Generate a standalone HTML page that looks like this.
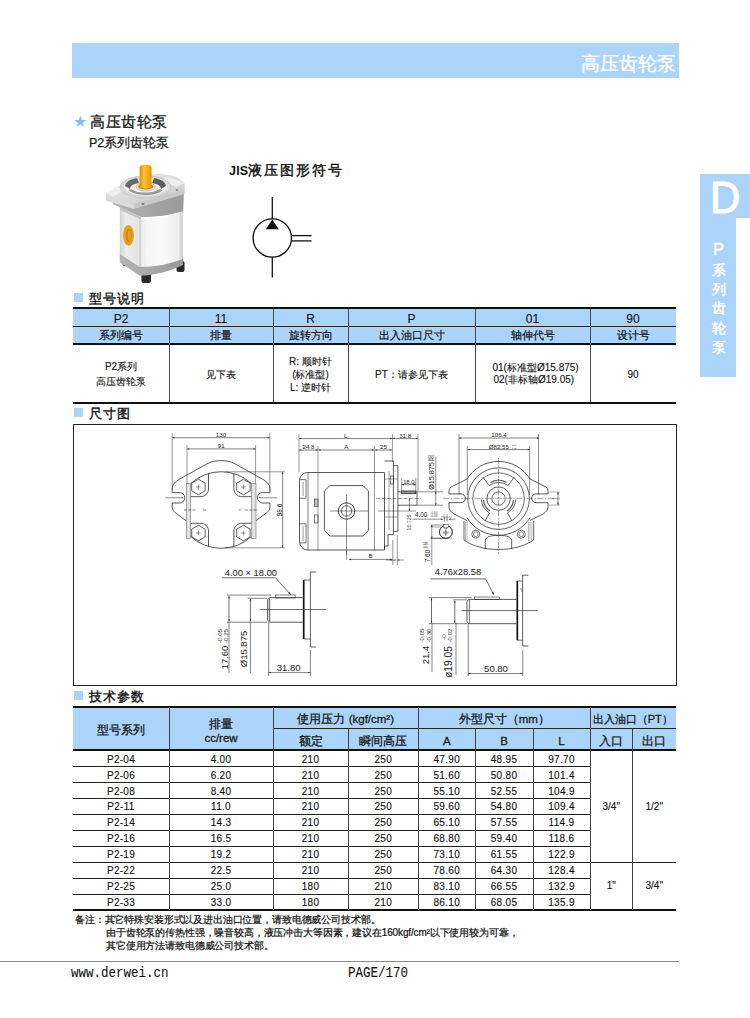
<!DOCTYPE html>
<html><head><meta charset="utf-8"><style>
html,body{margin:0;padding:0;background:#fff;}
body{width:750px;height:1018px;position:relative;overflow:hidden;font-family:"Liberation Sans",sans-serif;}
div{font-family:"Liberation Sans",sans-serif;}
</style></head><body>
<div style="position:absolute;left:72px;top:43px;width:607px;height:35px;background:#acd4fb;"></div><div class="" style="position:absolute;left:560px;top:45.5px;font-size:19px;color:#ffffff;font-weight:500;white-space:nowrap;-webkit-text-stroke:0.35px #ffffff;width:116px;text-align:right;line-height:35px;">高压齿轮泵</div><div style="position:absolute;left:700px;top:174px;width:50px;height:44px;background:#acd4fb;"></div><div style="position:absolute;left:700px;top:174px;width:35.5px;height:203px;background:#acd4fb;"></div><div class="" style="position:absolute;left:700px;top:174px;font-size:45px;color:#ffffff;font-weight:500;white-space:nowrap;-webkit-text-stroke:1.1px #ffffff;width:50px;text-align:center;line-height:48px;transform:scaleX(0.93);transform-origin:25px 0;">D</div><div class="" style="position:absolute;left:700px;top:241px;font-size:16.5px;color:#ffffff;font-weight:500;white-space:nowrap;-webkit-text-stroke:0.4px #ffffff;width:37px;text-align:center;line-height:16px;">P</div><div class="" style="position:absolute;left:700px;top:261.5px;font-size:14px;color:#ffffff;font-weight:500;white-space:nowrap;-webkit-text-stroke:0.45px #ffffff;width:37px;text-align:center;line-height:17px;">系</div><div class="" style="position:absolute;left:700px;top:280.9px;font-size:14px;color:#ffffff;font-weight:500;white-space:nowrap;-webkit-text-stroke:0.45px #ffffff;width:37px;text-align:center;line-height:17px;">列</div><div class="" style="position:absolute;left:700px;top:300.3px;font-size:14px;color:#ffffff;font-weight:500;white-space:nowrap;-webkit-text-stroke:0.45px #ffffff;width:37px;text-align:center;line-height:17px;">齿</div><div class="" style="position:absolute;left:700px;top:319.7px;font-size:14px;color:#ffffff;font-weight:500;white-space:nowrap;-webkit-text-stroke:0.45px #ffffff;width:37px;text-align:center;line-height:17px;">轮</div><div class="" style="position:absolute;left:700px;top:339.1px;font-size:14px;color:#ffffff;font-weight:500;white-space:nowrap;-webkit-text-stroke:0.45px #ffffff;width:37px;text-align:center;line-height:17px;">泵</div><div class="" style="position:absolute;left:72.5px;top:112.5px;font-size:16px;color:#86bdf3;font-weight:500;white-space:nowrap;line-height:18px;">★</div><div class="" style="position:absolute;left:90px;top:113px;font-size:15px;color:#1a1a1a;font-weight:500;white-space:nowrap;-webkit-text-stroke:0.32px #1a1a1a;line-height:18px;letter-spacing:0.5px;">高压齿轮泵</div><div class="" style="position:absolute;left:89px;top:134.5px;font-size:12.5px;color:#1a1a1a;font-weight:500;white-space:nowrap;-webkit-text-stroke:0.25px #1a1a1a;line-height:16px;">P2系列齿轮泵</div><div class="" style="position:absolute;left:229px;top:162px;font-size:14px;color:#111;font-weight:400;white-space:nowrap;-webkit-text-stroke:0.4px #111;line-height:16px;letter-spacing:1.9px;"><span style="font-weight:700;font-size:12.5px;letter-spacing:0.2px;-webkit-text-stroke:0">JIS</span>液压图形符号</div><div style="position:absolute;left:73.8px;top:293px;width:9.2px;height:9px;background:#acd4fb;"></div><div class="" style="position:absolute;left:89px;top:291px;font-size:13px;color:#111;font-weight:500;white-space:nowrap;-webkit-text-stroke:0.38px #111;line-height:16px;letter-spacing:1px;">型号说明</div><div style="position:absolute;left:73.8px;top:408px;width:9.2px;height:9px;background:#acd4fb;"></div><div class="" style="position:absolute;left:89px;top:406px;font-size:13px;color:#111;font-weight:500;white-space:nowrap;-webkit-text-stroke:0.38px #111;line-height:16px;letter-spacing:1px;">尺寸图</div><div style="position:absolute;left:73.8px;top:691px;width:9.2px;height:9px;background:#acd4fb;"></div><div class="" style="position:absolute;left:89px;top:689px;font-size:13px;color:#111;font-weight:500;white-space:nowrap;-webkit-text-stroke:0.38px #111;line-height:16px;letter-spacing:1px;">技术参数</div><div style="position:absolute;left:73px;top:309px;width:603px;height:34.5px;background:#acd4fb;"></div><div style="position:absolute;left:73px;top:307px;width:603px;height:2px;background:#111;"></div><div style="position:absolute;left:73px;top:326px;width:603px;height:1px;background:#222;"></div><div style="position:absolute;left:73px;top:343px;width:603px;height:2px;background:#111;"></div><div style="position:absolute;left:73px;top:402px;width:603px;height:1.6px;background:#111;"></div><div style="position:absolute;left:168.5px;top:309px;width:1.1px;height:93px;background:#484848;"></div><div style="position:absolute;left:272.5px;top:309px;width:1.1px;height:93px;background:#484848;"></div><div style="position:absolute;left:347.5px;top:309px;width:1.1px;height:93px;background:#484848;"></div><div style="position:absolute;left:474.5px;top:309px;width:1.1px;height:93px;background:#484848;"></div><div style="position:absolute;left:589.5px;top:309px;width:1.1px;height:93px;background:#484848;"></div><div class="" style="position:absolute;left:73px;top:310.5px;font-size:12px;color:#111;font-weight:500;white-space:nowrap;-webkit-text-stroke:0.1px #111;width:96px;text-align:center;line-height:17px;">P2</div><div class="" style="position:absolute;left:73px;top:327px;font-size:11px;color:#111;font-weight:500;white-space:nowrap;-webkit-text-stroke:0.2px #111;width:96px;text-align:center;line-height:16.5px;">系列编号</div><div class="" style="position:absolute;left:169px;top:310.5px;font-size:12px;color:#111;font-weight:500;white-space:nowrap;-webkit-text-stroke:0.1px #111;width:104px;text-align:center;line-height:17px;">11</div><div class="" style="position:absolute;left:169px;top:327px;font-size:11px;color:#111;font-weight:500;white-space:nowrap;-webkit-text-stroke:0.2px #111;width:104px;text-align:center;line-height:16.5px;">排量</div><div class="" style="position:absolute;left:273px;top:310.5px;font-size:12px;color:#111;font-weight:500;white-space:nowrap;-webkit-text-stroke:0.1px #111;width:75px;text-align:center;line-height:17px;">R</div><div class="" style="position:absolute;left:273px;top:327px;font-size:11px;color:#111;font-weight:500;white-space:nowrap;-webkit-text-stroke:0.2px #111;width:75px;text-align:center;line-height:16.5px;">旋转方向</div><div class="" style="position:absolute;left:348px;top:310.5px;font-size:12px;color:#111;font-weight:500;white-space:nowrap;-webkit-text-stroke:0.1px #111;width:127px;text-align:center;line-height:17px;">P</div><div class="" style="position:absolute;left:348px;top:327px;font-size:11px;color:#111;font-weight:500;white-space:nowrap;-webkit-text-stroke:0.2px #111;width:127px;text-align:center;line-height:16.5px;">出入油口尺寸</div><div class="" style="position:absolute;left:475px;top:310.5px;font-size:12px;color:#111;font-weight:500;white-space:nowrap;-webkit-text-stroke:0.1px #111;width:115px;text-align:center;line-height:17px;">01</div><div class="" style="position:absolute;left:475px;top:327px;font-size:11px;color:#111;font-weight:500;white-space:nowrap;-webkit-text-stroke:0.2px #111;width:115px;text-align:center;line-height:16.5px;">轴伸代号</div><div class="" style="position:absolute;left:590px;top:310.5px;font-size:12px;color:#111;font-weight:500;white-space:nowrap;-webkit-text-stroke:0.1px #111;width:86px;text-align:center;line-height:17px;">90</div><div class="" style="position:absolute;left:590px;top:327px;font-size:11px;color:#111;font-weight:500;white-space:nowrap;-webkit-text-stroke:0.2px #111;width:86px;text-align:center;line-height:16.5px;">设计号</div><div class="" style="position:absolute;left:73px;top:359.3px;font-size:10px;color:#111;font-weight:500;white-space:nowrap;-webkit-text-stroke:0.12px #111;width:96px;text-align:center;line-height:15px;">P2系列<br>高压齿轮泵</div><div class="" style="position:absolute;left:169px;top:366.8px;font-size:10px;color:#111;font-weight:500;white-space:nowrap;-webkit-text-stroke:0.12px #111;width:104px;text-align:center;line-height:15px;">见下表</div><div class="" style="position:absolute;left:273px;top:354.8px;font-size:10px;color:#111;font-weight:500;white-space:nowrap;-webkit-text-stroke:0.12px #111;width:75px;text-align:center;line-height:13px;">R: 顺时针<br>(标准型)<br>L: 逆时针</div><div class="" style="position:absolute;left:348px;top:366.8px;font-size:10px;color:#111;font-weight:500;white-space:nowrap;-webkit-text-stroke:0.12px #111;width:127px;text-align:center;line-height:15px;">PT：请参见下表</div><div class="" style="position:absolute;left:492.5px;top:361.8px;font-size:10px;color:#111;font-weight:500;white-space:nowrap;-webkit-text-stroke:0.12px #111;line-height:12.5px;">01(标准型Ø15.875)<br><span style="margin-left:1px">02(非标轴Ø19.05)</span></div><div class="" style="position:absolute;left:590px;top:366.8px;font-size:10px;color:#111;font-weight:500;white-space:nowrap;-webkit-text-stroke:0.12px #111;width:86px;text-align:center;line-height:15px;">90</div><div style="position:absolute;left:73px;top:423.5px;width:602px;height:260px;border:1.2px solid #222;"></div><div style="position:absolute;left:73px;top:707px;width:603px;height:43px;background:#acd4fb;"></div><div style="position:absolute;left:73px;top:706px;width:603px;height:2px;background:#111;"></div><div style="position:absolute;left:273px;top:728px;width:403px;height:1px;background:#222;"></div><div style="position:absolute;left:73px;top:749px;width:603px;height:2px;background:#111;"></div><div style="position:absolute;left:73px;top:766px;width:517px;height:1px;background:#222;"></div><div style="position:absolute;left:73px;top:782px;width:517px;height:1px;background:#222;"></div><div style="position:absolute;left:73px;top:798px;width:517px;height:1px;background:#222;"></div><div style="position:absolute;left:73px;top:814px;width:517px;height:1px;background:#222;"></div><div style="position:absolute;left:73px;top:830px;width:517px;height:1px;background:#222;"></div><div style="position:absolute;left:73px;top:846px;width:517px;height:1px;background:#222;"></div><div style="position:absolute;left:73px;top:862px;width:603px;height:1px;background:#222;"></div><div style="position:absolute;left:73px;top:878px;width:517px;height:1px;background:#222;"></div><div style="position:absolute;left:73px;top:894px;width:517px;height:1px;background:#222;"></div><div style="position:absolute;left:73px;top:909px;width:603px;height:2px;background:#111;"></div><div style="position:absolute;left:168.5px;top:707px;width:1.1px;height:203px;background:#404040;"></div><div style="position:absolute;left:272.5px;top:707px;width:1.1px;height:203px;background:#404040;"></div><div style="position:absolute;left:347.5px;top:728.5px;width:1.1px;height:181.5px;background:#404040;"></div><div style="position:absolute;left:418.0px;top:707px;width:1.1px;height:203px;background:#404040;"></div><div style="position:absolute;left:474.5px;top:728.5px;width:1.1px;height:181.5px;background:#404040;"></div><div style="position:absolute;left:532.5px;top:728.5px;width:1.1px;height:181.5px;background:#404040;"></div><div style="position:absolute;left:589.5px;top:707px;width:1.1px;height:203px;background:#404040;"></div><div style="position:absolute;left:632.0px;top:728.5px;width:1.1px;height:181.5px;background:#404040;"></div><div class="" style="position:absolute;left:73px;top:708.5px;font-size:11.5px;color:#1a1a1a;font-weight:500;white-space:nowrap;-webkit-text-stroke:0.3px #1a1a1a;width:96px;text-align:center;line-height:43px;">型号系列</div><div class="" style="position:absolute;left:169px;top:716.5px;font-size:11.5px;color:#1a1a1a;font-weight:500;white-space:nowrap;-webkit-text-stroke:0.3px #1a1a1a;width:104px;text-align:center;line-height:14.5px;white-space:normal;">排量<br>cc/rew</div><div class="" style="position:absolute;left:273px;top:709px;font-size:11.5px;color:#1a1a1a;font-weight:500;white-space:nowrap;-webkit-text-stroke:0.3px #1a1a1a;width:145.5px;text-align:center;line-height:21.5px;">使用压力 (kgf/cm²)</div><div class="" style="position:absolute;left:273px;top:730.5px;font-size:11.5px;color:#1a1a1a;font-weight:500;white-space:nowrap;-webkit-text-stroke:0.3px #1a1a1a;width:75px;text-align:center;line-height:21px;">额定</div><div class="" style="position:absolute;left:348px;top:730.5px;font-size:11.5px;color:#1a1a1a;font-weight:500;white-space:nowrap;-webkit-text-stroke:0.3px #1a1a1a;width:70.5px;text-align:center;line-height:21px;">瞬间高压</div><div class="" style="position:absolute;left:418.5px;top:709px;font-size:11.5px;color:#1a1a1a;font-weight:500;white-space:nowrap;-webkit-text-stroke:0.3px #1a1a1a;width:171.5px;text-align:center;line-height:21.5px;">外型尺寸（mm）</div><div class="" style="position:absolute;left:418.5px;top:730.5px;font-size:11.5px;color:#1a1a1a;font-weight:500;white-space:nowrap;-webkit-text-stroke:0.3px #1a1a1a;width:56.5px;text-align:center;line-height:21px;">A</div><div class="" style="position:absolute;left:475px;top:730.5px;font-size:11.5px;color:#1a1a1a;font-weight:500;white-space:nowrap;-webkit-text-stroke:0.3px #1a1a1a;width:58px;text-align:center;line-height:21px;">B</div><div class="" style="position:absolute;left:533px;top:730.5px;font-size:11.5px;color:#1a1a1a;font-weight:500;white-space:nowrap;-webkit-text-stroke:0.3px #1a1a1a;width:57px;text-align:center;line-height:21px;">L</div><div class="" style="position:absolute;left:590px;top:709px;font-size:11px;color:#1a1a1a;font-weight:500;white-space:nowrap;-webkit-text-stroke:0.3px #1a1a1a;width:86px;text-align:center;line-height:21.5px;letter-spacing:-0.1px;">出入油口（PT）</div><div class="" style="position:absolute;left:590px;top:730.5px;font-size:11.5px;color:#1a1a1a;font-weight:500;white-space:nowrap;-webkit-text-stroke:0.3px #1a1a1a;width:42.5px;text-align:center;line-height:21px;">入口</div><div class="" style="position:absolute;left:632.5px;top:730.5px;font-size:11.5px;color:#1a1a1a;font-weight:500;white-space:nowrap;-webkit-text-stroke:0.3px #1a1a1a;width:43.5px;text-align:center;line-height:21px;">出口</div><div class="" style="position:absolute;left:73px;top:751.5999999999999px;font-size:10px;color:#111;font-weight:500;white-space:nowrap;-webkit-text-stroke:0.12px #111;width:96px;text-align:center;line-height:15.96px;letter-spacing:0.3px;">P2-04</div><div class="" style="position:absolute;left:169px;top:751.5999999999999px;font-size:10px;color:#111;font-weight:500;white-space:nowrap;-webkit-text-stroke:0.12px #111;width:104px;text-align:center;line-height:15.96px;letter-spacing:0.3px;">4.00</div><div class="" style="position:absolute;left:273px;top:751.5999999999999px;font-size:10px;color:#111;font-weight:500;white-space:nowrap;-webkit-text-stroke:0.12px #111;width:75px;text-align:center;line-height:15.96px;letter-spacing:0.3px;">210</div><div class="" style="position:absolute;left:348px;top:751.5999999999999px;font-size:10px;color:#111;font-weight:500;white-space:nowrap;-webkit-text-stroke:0.12px #111;width:70.5px;text-align:center;line-height:15.96px;letter-spacing:0.3px;">250</div><div class="" style="position:absolute;left:418.5px;top:751.5999999999999px;font-size:10px;color:#111;font-weight:500;white-space:nowrap;-webkit-text-stroke:0.12px #111;width:56.5px;text-align:center;line-height:15.96px;letter-spacing:0.3px;">47.90</div><div class="" style="position:absolute;left:475px;top:751.5999999999999px;font-size:10px;color:#111;font-weight:500;white-space:nowrap;-webkit-text-stroke:0.12px #111;width:58px;text-align:center;line-height:15.96px;letter-spacing:0.3px;">48.95</div><div class="" style="position:absolute;left:533px;top:751.5999999999999px;font-size:10px;color:#111;font-weight:500;white-space:nowrap;-webkit-text-stroke:0.12px #111;width:57px;text-align:center;line-height:15.96px;letter-spacing:0.3px;">97.70</div><div class="" style="position:absolute;left:73px;top:767.56px;font-size:10px;color:#111;font-weight:500;white-space:nowrap;-webkit-text-stroke:0.12px #111;width:96px;text-align:center;line-height:15.96px;letter-spacing:0.3px;">P2-06</div><div class="" style="position:absolute;left:169px;top:767.56px;font-size:10px;color:#111;font-weight:500;white-space:nowrap;-webkit-text-stroke:0.12px #111;width:104px;text-align:center;line-height:15.96px;letter-spacing:0.3px;">6.20</div><div class="" style="position:absolute;left:273px;top:767.56px;font-size:10px;color:#111;font-weight:500;white-space:nowrap;-webkit-text-stroke:0.12px #111;width:75px;text-align:center;line-height:15.96px;letter-spacing:0.3px;">210</div><div class="" style="position:absolute;left:348px;top:767.56px;font-size:10px;color:#111;font-weight:500;white-space:nowrap;-webkit-text-stroke:0.12px #111;width:70.5px;text-align:center;line-height:15.96px;letter-spacing:0.3px;">250</div><div class="" style="position:absolute;left:418.5px;top:767.56px;font-size:10px;color:#111;font-weight:500;white-space:nowrap;-webkit-text-stroke:0.12px #111;width:56.5px;text-align:center;line-height:15.96px;letter-spacing:0.3px;">51.60</div><div class="" style="position:absolute;left:475px;top:767.56px;font-size:10px;color:#111;font-weight:500;white-space:nowrap;-webkit-text-stroke:0.12px #111;width:58px;text-align:center;line-height:15.96px;letter-spacing:0.3px;">50.80</div><div class="" style="position:absolute;left:533px;top:767.56px;font-size:10px;color:#111;font-weight:500;white-space:nowrap;-webkit-text-stroke:0.12px #111;width:57px;text-align:center;line-height:15.96px;letter-spacing:0.3px;">101.4</div><div class="" style="position:absolute;left:73px;top:783.5199999999999px;font-size:10px;color:#111;font-weight:500;white-space:nowrap;-webkit-text-stroke:0.12px #111;width:96px;text-align:center;line-height:15.96px;letter-spacing:0.3px;">P2-08</div><div class="" style="position:absolute;left:169px;top:783.5199999999999px;font-size:10px;color:#111;font-weight:500;white-space:nowrap;-webkit-text-stroke:0.12px #111;width:104px;text-align:center;line-height:15.96px;letter-spacing:0.3px;">8.40</div><div class="" style="position:absolute;left:273px;top:783.5199999999999px;font-size:10px;color:#111;font-weight:500;white-space:nowrap;-webkit-text-stroke:0.12px #111;width:75px;text-align:center;line-height:15.96px;letter-spacing:0.3px;">210</div><div class="" style="position:absolute;left:348px;top:783.5199999999999px;font-size:10px;color:#111;font-weight:500;white-space:nowrap;-webkit-text-stroke:0.12px #111;width:70.5px;text-align:center;line-height:15.96px;letter-spacing:0.3px;">250</div><div class="" style="position:absolute;left:418.5px;top:783.5199999999999px;font-size:10px;color:#111;font-weight:500;white-space:nowrap;-webkit-text-stroke:0.12px #111;width:56.5px;text-align:center;line-height:15.96px;letter-spacing:0.3px;">55.10</div><div class="" style="position:absolute;left:475px;top:783.5199999999999px;font-size:10px;color:#111;font-weight:500;white-space:nowrap;-webkit-text-stroke:0.12px #111;width:58px;text-align:center;line-height:15.96px;letter-spacing:0.3px;">52.55</div><div class="" style="position:absolute;left:533px;top:783.5199999999999px;font-size:10px;color:#111;font-weight:500;white-space:nowrap;-webkit-text-stroke:0.12px #111;width:57px;text-align:center;line-height:15.96px;letter-spacing:0.3px;">104.9</div><div class="" style="position:absolute;left:73px;top:799.4799999999999px;font-size:10px;color:#111;font-weight:500;white-space:nowrap;-webkit-text-stroke:0.12px #111;width:96px;text-align:center;line-height:15.96px;letter-spacing:0.3px;">P2-11</div><div class="" style="position:absolute;left:169px;top:799.4799999999999px;font-size:10px;color:#111;font-weight:500;white-space:nowrap;-webkit-text-stroke:0.12px #111;width:104px;text-align:center;line-height:15.96px;letter-spacing:0.3px;">11.0</div><div class="" style="position:absolute;left:273px;top:799.4799999999999px;font-size:10px;color:#111;font-weight:500;white-space:nowrap;-webkit-text-stroke:0.12px #111;width:75px;text-align:center;line-height:15.96px;letter-spacing:0.3px;">210</div><div class="" style="position:absolute;left:348px;top:799.4799999999999px;font-size:10px;color:#111;font-weight:500;white-space:nowrap;-webkit-text-stroke:0.12px #111;width:70.5px;text-align:center;line-height:15.96px;letter-spacing:0.3px;">250</div><div class="" style="position:absolute;left:418.5px;top:799.4799999999999px;font-size:10px;color:#111;font-weight:500;white-space:nowrap;-webkit-text-stroke:0.12px #111;width:56.5px;text-align:center;line-height:15.96px;letter-spacing:0.3px;">59.60</div><div class="" style="position:absolute;left:475px;top:799.4799999999999px;font-size:10px;color:#111;font-weight:500;white-space:nowrap;-webkit-text-stroke:0.12px #111;width:58px;text-align:center;line-height:15.96px;letter-spacing:0.3px;">54.80</div><div class="" style="position:absolute;left:533px;top:799.4799999999999px;font-size:10px;color:#111;font-weight:500;white-space:nowrap;-webkit-text-stroke:0.12px #111;width:57px;text-align:center;line-height:15.96px;letter-spacing:0.3px;">109.4</div><div class="" style="position:absolute;left:73px;top:815.4399999999999px;font-size:10px;color:#111;font-weight:500;white-space:nowrap;-webkit-text-stroke:0.12px #111;width:96px;text-align:center;line-height:15.96px;letter-spacing:0.3px;">P2-14</div><div class="" style="position:absolute;left:169px;top:815.4399999999999px;font-size:10px;color:#111;font-weight:500;white-space:nowrap;-webkit-text-stroke:0.12px #111;width:104px;text-align:center;line-height:15.96px;letter-spacing:0.3px;">14.3</div><div class="" style="position:absolute;left:273px;top:815.4399999999999px;font-size:10px;color:#111;font-weight:500;white-space:nowrap;-webkit-text-stroke:0.12px #111;width:75px;text-align:center;line-height:15.96px;letter-spacing:0.3px;">210</div><div class="" style="position:absolute;left:348px;top:815.4399999999999px;font-size:10px;color:#111;font-weight:500;white-space:nowrap;-webkit-text-stroke:0.12px #111;width:70.5px;text-align:center;line-height:15.96px;letter-spacing:0.3px;">250</div><div class="" style="position:absolute;left:418.5px;top:815.4399999999999px;font-size:10px;color:#111;font-weight:500;white-space:nowrap;-webkit-text-stroke:0.12px #111;width:56.5px;text-align:center;line-height:15.96px;letter-spacing:0.3px;">65.10</div><div class="" style="position:absolute;left:475px;top:815.4399999999999px;font-size:10px;color:#111;font-weight:500;white-space:nowrap;-webkit-text-stroke:0.12px #111;width:58px;text-align:center;line-height:15.96px;letter-spacing:0.3px;">57.55</div><div class="" style="position:absolute;left:533px;top:815.4399999999999px;font-size:10px;color:#111;font-weight:500;white-space:nowrap;-webkit-text-stroke:0.12px #111;width:57px;text-align:center;line-height:15.96px;letter-spacing:0.3px;">114.9</div><div class="" style="position:absolute;left:73px;top:831.3999999999999px;font-size:10px;color:#111;font-weight:500;white-space:nowrap;-webkit-text-stroke:0.12px #111;width:96px;text-align:center;line-height:15.96px;letter-spacing:0.3px;">P2-16</div><div class="" style="position:absolute;left:169px;top:831.3999999999999px;font-size:10px;color:#111;font-weight:500;white-space:nowrap;-webkit-text-stroke:0.12px #111;width:104px;text-align:center;line-height:15.96px;letter-spacing:0.3px;">16.5</div><div class="" style="position:absolute;left:273px;top:831.3999999999999px;font-size:10px;color:#111;font-weight:500;white-space:nowrap;-webkit-text-stroke:0.12px #111;width:75px;text-align:center;line-height:15.96px;letter-spacing:0.3px;">210</div><div class="" style="position:absolute;left:348px;top:831.3999999999999px;font-size:10px;color:#111;font-weight:500;white-space:nowrap;-webkit-text-stroke:0.12px #111;width:70.5px;text-align:center;line-height:15.96px;letter-spacing:0.3px;">250</div><div class="" style="position:absolute;left:418.5px;top:831.3999999999999px;font-size:10px;color:#111;font-weight:500;white-space:nowrap;-webkit-text-stroke:0.12px #111;width:56.5px;text-align:center;line-height:15.96px;letter-spacing:0.3px;">68.80</div><div class="" style="position:absolute;left:475px;top:831.3999999999999px;font-size:10px;color:#111;font-weight:500;white-space:nowrap;-webkit-text-stroke:0.12px #111;width:58px;text-align:center;line-height:15.96px;letter-spacing:0.3px;">59.40</div><div class="" style="position:absolute;left:533px;top:831.3999999999999px;font-size:10px;color:#111;font-weight:500;white-space:nowrap;-webkit-text-stroke:0.12px #111;width:57px;text-align:center;line-height:15.96px;letter-spacing:0.3px;">118.6</div><div class="" style="position:absolute;left:73px;top:847.3599999999999px;font-size:10px;color:#111;font-weight:500;white-space:nowrap;-webkit-text-stroke:0.12px #111;width:96px;text-align:center;line-height:15.96px;letter-spacing:0.3px;">P2-19</div><div class="" style="position:absolute;left:169px;top:847.3599999999999px;font-size:10px;color:#111;font-weight:500;white-space:nowrap;-webkit-text-stroke:0.12px #111;width:104px;text-align:center;line-height:15.96px;letter-spacing:0.3px;">19.2</div><div class="" style="position:absolute;left:273px;top:847.3599999999999px;font-size:10px;color:#111;font-weight:500;white-space:nowrap;-webkit-text-stroke:0.12px #111;width:75px;text-align:center;line-height:15.96px;letter-spacing:0.3px;">210</div><div class="" style="position:absolute;left:348px;top:847.3599999999999px;font-size:10px;color:#111;font-weight:500;white-space:nowrap;-webkit-text-stroke:0.12px #111;width:70.5px;text-align:center;line-height:15.96px;letter-spacing:0.3px;">250</div><div class="" style="position:absolute;left:418.5px;top:847.3599999999999px;font-size:10px;color:#111;font-weight:500;white-space:nowrap;-webkit-text-stroke:0.12px #111;width:56.5px;text-align:center;line-height:15.96px;letter-spacing:0.3px;">73.10</div><div class="" style="position:absolute;left:475px;top:847.3599999999999px;font-size:10px;color:#111;font-weight:500;white-space:nowrap;-webkit-text-stroke:0.12px #111;width:58px;text-align:center;line-height:15.96px;letter-spacing:0.3px;">61.55</div><div class="" style="position:absolute;left:533px;top:847.3599999999999px;font-size:10px;color:#111;font-weight:500;white-space:nowrap;-webkit-text-stroke:0.12px #111;width:57px;text-align:center;line-height:15.96px;letter-spacing:0.3px;">122.9</div><div class="" style="position:absolute;left:73px;top:863.3199999999999px;font-size:10px;color:#111;font-weight:500;white-space:nowrap;-webkit-text-stroke:0.12px #111;width:96px;text-align:center;line-height:15.96px;letter-spacing:0.3px;">P2-22</div><div class="" style="position:absolute;left:169px;top:863.3199999999999px;font-size:10px;color:#111;font-weight:500;white-space:nowrap;-webkit-text-stroke:0.12px #111;width:104px;text-align:center;line-height:15.96px;letter-spacing:0.3px;">22.5</div><div class="" style="position:absolute;left:273px;top:863.3199999999999px;font-size:10px;color:#111;font-weight:500;white-space:nowrap;-webkit-text-stroke:0.12px #111;width:75px;text-align:center;line-height:15.96px;letter-spacing:0.3px;">210</div><div class="" style="position:absolute;left:348px;top:863.3199999999999px;font-size:10px;color:#111;font-weight:500;white-space:nowrap;-webkit-text-stroke:0.12px #111;width:70.5px;text-align:center;line-height:15.96px;letter-spacing:0.3px;">250</div><div class="" style="position:absolute;left:418.5px;top:863.3199999999999px;font-size:10px;color:#111;font-weight:500;white-space:nowrap;-webkit-text-stroke:0.12px #111;width:56.5px;text-align:center;line-height:15.96px;letter-spacing:0.3px;">78.60</div><div class="" style="position:absolute;left:475px;top:863.3199999999999px;font-size:10px;color:#111;font-weight:500;white-space:nowrap;-webkit-text-stroke:0.12px #111;width:58px;text-align:center;line-height:15.96px;letter-spacing:0.3px;">64.30</div><div class="" style="position:absolute;left:533px;top:863.3199999999999px;font-size:10px;color:#111;font-weight:500;white-space:nowrap;-webkit-text-stroke:0.12px #111;width:57px;text-align:center;line-height:15.96px;letter-spacing:0.3px;">128.4</div><div class="" style="position:absolute;left:73px;top:879.28px;font-size:10px;color:#111;font-weight:500;white-space:nowrap;-webkit-text-stroke:0.12px #111;width:96px;text-align:center;line-height:15.96px;letter-spacing:0.3px;">P2-25</div><div class="" style="position:absolute;left:169px;top:879.28px;font-size:10px;color:#111;font-weight:500;white-space:nowrap;-webkit-text-stroke:0.12px #111;width:104px;text-align:center;line-height:15.96px;letter-spacing:0.3px;">25.0</div><div class="" style="position:absolute;left:273px;top:879.28px;font-size:10px;color:#111;font-weight:500;white-space:nowrap;-webkit-text-stroke:0.12px #111;width:75px;text-align:center;line-height:15.96px;letter-spacing:0.3px;">180</div><div class="" style="position:absolute;left:348px;top:879.28px;font-size:10px;color:#111;font-weight:500;white-space:nowrap;-webkit-text-stroke:0.12px #111;width:70.5px;text-align:center;line-height:15.96px;letter-spacing:0.3px;">210</div><div class="" style="position:absolute;left:418.5px;top:879.28px;font-size:10px;color:#111;font-weight:500;white-space:nowrap;-webkit-text-stroke:0.12px #111;width:56.5px;text-align:center;line-height:15.96px;letter-spacing:0.3px;">83.10</div><div class="" style="position:absolute;left:475px;top:879.28px;font-size:10px;color:#111;font-weight:500;white-space:nowrap;-webkit-text-stroke:0.12px #111;width:58px;text-align:center;line-height:15.96px;letter-spacing:0.3px;">66.55</div><div class="" style="position:absolute;left:533px;top:879.28px;font-size:10px;color:#111;font-weight:500;white-space:nowrap;-webkit-text-stroke:0.12px #111;width:57px;text-align:center;line-height:15.96px;letter-spacing:0.3px;">132.9</div><div class="" style="position:absolute;left:73px;top:895.2399999999999px;font-size:10px;color:#111;font-weight:500;white-space:nowrap;-webkit-text-stroke:0.12px #111;width:96px;text-align:center;line-height:15.96px;letter-spacing:0.3px;">P2-33</div><div class="" style="position:absolute;left:169px;top:895.2399999999999px;font-size:10px;color:#111;font-weight:500;white-space:nowrap;-webkit-text-stroke:0.12px #111;width:104px;text-align:center;line-height:15.96px;letter-spacing:0.3px;">33.0</div><div class="" style="position:absolute;left:273px;top:895.2399999999999px;font-size:10px;color:#111;font-weight:500;white-space:nowrap;-webkit-text-stroke:0.12px #111;width:75px;text-align:center;line-height:15.96px;letter-spacing:0.3px;">180</div><div class="" style="position:absolute;left:348px;top:895.2399999999999px;font-size:10px;color:#111;font-weight:500;white-space:nowrap;-webkit-text-stroke:0.12px #111;width:70.5px;text-align:center;line-height:15.96px;letter-spacing:0.3px;">210</div><div class="" style="position:absolute;left:418.5px;top:895.2399999999999px;font-size:10px;color:#111;font-weight:500;white-space:nowrap;-webkit-text-stroke:0.12px #111;width:56.5px;text-align:center;line-height:15.96px;letter-spacing:0.3px;">86.10</div><div class="" style="position:absolute;left:475px;top:895.2399999999999px;font-size:10px;color:#111;font-weight:500;white-space:nowrap;-webkit-text-stroke:0.12px #111;width:58px;text-align:center;line-height:15.96px;letter-spacing:0.3px;">68.05</div><div class="" style="position:absolute;left:533px;top:895.2399999999999px;font-size:10px;color:#111;font-weight:500;white-space:nowrap;-webkit-text-stroke:0.12px #111;width:57px;text-align:center;line-height:15.96px;letter-spacing:0.3px;">135.9</div><div class="" style="position:absolute;left:590px;top:750.6px;font-size:10px;color:#111;font-weight:500;white-space:nowrap;-webkit-text-stroke:0.12px #111;width:42.5px;text-align:center;line-height:111.72px;">3/4"</div><div class="" style="position:absolute;left:632.5px;top:750.6px;font-size:10px;color:#111;font-weight:500;white-space:nowrap;-webkit-text-stroke:0.12px #111;width:43.5px;text-align:center;line-height:111.72px;">1/2"</div><div class="" style="position:absolute;left:590px;top:862.32px;font-size:10px;color:#111;font-weight:500;white-space:nowrap;-webkit-text-stroke:0.12px #111;width:42.5px;text-align:center;line-height:47.88px;">1"</div><div class="" style="position:absolute;left:632.5px;top:862.32px;font-size:10px;color:#111;font-weight:500;white-space:nowrap;-webkit-text-stroke:0.12px #111;width:43.5px;text-align:center;line-height:47.88px;">3/4"</div><div class="" style="position:absolute;left:75px;top:913.5px;font-size:10px;color:#111;font-weight:500;white-space:nowrap;-webkit-text-stroke:0.22px #111;line-height:12.7px;letter-spacing:-0.15px;">备注：其它特殊安装形式以及进出油口位置，请致电德威公司技术部。</div><div class="" style="position:absolute;left:106px;top:926.5px;font-size:10px;color:#111;font-weight:500;white-space:nowrap;-webkit-text-stroke:0.22px #111;line-height:12.7px;letter-spacing:-0.15px;">由于齿轮泵的传热性强，噪音较高，液压冲击大等因素，建议在160kgf/cm²以下使用较为可靠，</div><div class="" style="position:absolute;left:106px;top:939.5px;font-size:10px;color:#111;font-weight:500;white-space:nowrap;-webkit-text-stroke:0.22px #111;line-height:12.7px;letter-spacing:-0.15px;">其它使用方法请致电德威公司技术部。</div><div style="position:absolute;left:0px;top:960.5px;width:679px;height:1.2px;background:#8c8c8c;"></div><div class="" style="position:absolute;left:71px;top:966px;font-size:15px;color:#111;font-weight:500;white-space:nowrap;-webkit-text-stroke:0.1px #111;line-height:16px;font-family:'Liberation Mono',monospace;transform:scaleX(0.833);transform-origin:0 0;">www.derwei.cn</div><div class="" style="position:absolute;left:348px;top:965.5px;font-size:15px;color:#111;font-weight:500;white-space:nowrap;-webkit-text-stroke:0.1px #111;line-height:16px;font-family:'Liberation Mono',monospace;transform:scaleX(0.833);transform-origin:0 0;">PAGE/170</div>
<svg style="position:absolute;left:0;top:0" width="750" height="1018" viewBox="0 0 750 1018"><defs>
<linearGradient id="gFront" x1="0" y1="0" x2="1" y2="0">
 <stop offset="0" stop-color="#d8d8d8"/><stop offset="0.08" stop-color="#f4f4f4"/><stop offset="0.5" stop-color="#fbfbfb"/><stop offset="0.9" stop-color="#eeeeee"/><stop offset="1" stop-color="#c8c8c8"/>
</linearGradient>
<linearGradient id="gLeft" x1="0" y1="0" x2="1" y2="0">
 <stop offset="0" stop-color="#d0d0d0"/><stop offset="0.3" stop-color="#ececec"/><stop offset="1" stop-color="#e4e4e4"/>
</linearGradient>
<linearGradient id="gShaft" x1="0" y1="0" x2="1" y2="0">
 <stop offset="0" stop-color="#e08a00"/><stop offset="0.35" stop-color="#ffc040"/><stop offset="1" stop-color="#e89400"/>
</linearGradient>
<linearGradient id="gBand" x1="0" y1="0" x2="1" y2="0">
 <stop offset="0" stop-color="#b4b4b4"/><stop offset="0.5" stop-color="#a6a6a6"/><stop offset="1" stop-color="#9a9a9a"/>
</linearGradient>
<linearGradient id="gPlate" x1="0" y1="0" x2="1" y2="1">
 <stop offset="0" stop-color="#e8e8e8"/><stop offset="0.5" stop-color="#dcdcdc"/><stop offset="1" stop-color="#c4c4c4"/>
</linearGradient>
</defs><rect x="122.5" y="257" width="8" height="9" rx="2" fill="#2a2a2a"/><rect x="141.4" y="270" width="9.6" height="13" rx="2.5" fill="#2a2a2a"/><rect x="176.5" y="261" width="8" height="11" rx="2" fill="#2a2a2a"/><path d="M119.8,252 L139.6,265 C155,265 170,262 183,257 L183,265 C170,271 155,275.6 139.6,275.6 L119.8,262.4 Z" fill="url(#gBand)"/><path d="M119.8,207 L139.6,219.2 L139.6,267 L119.8,254 Z" fill="url(#gLeft)"/><path d="M139.6,219.2 C155,219.2 170,216 182.8,211 L182.8,259 C170,264 155,267 139.6,267 Z" fill="url(#gFront)"/><line x1="139.8" y1="219" x2="139.8" y2="267" stroke="#c6c6c6" stroke-width="0.8"/><line x1="145" y1="219" x2="145" y2="267" stroke="#e2e2e2" stroke-width="0.6"/><ellipse cx="128.5" cy="235.4" rx="5.4" ry="10.4" fill="#f0a010"/><ellipse cx="128.8" cy="235.6" rx="3.2" ry="7.2" fill="#c98a18"/><ellipse cx="129.5" cy="235.8" rx="1.8" ry="5" fill="#e0a030"/><path d="M113,201 L184,190 L183.2,211 C170,215.5 155,217 141,217 L120,207.5 L113,204 Z" fill="url(#gBand)"/><path d="M120,207.5 L141,217 L141,219.5 L120,210 Z" fill="#c4c4c4"/><path d="M106,195 L134,204 L184.6,189 L184.6,194 L134,209 L106,200.5 Z" fill="#c9c9c9"/><path d="M106,195 L134,204 L134,209 L106,200.5 Z" fill="#dadada"/><path d="M106,193 L117,186.5 L124,186 L150,175 L160,173.5 L176,176.5 L184.6,183 L184.6,189 L158,197.5 L134,204 L106,195 Z" fill="url(#gPlate)"/><path d="M106,193 L117,186.5 L125,189.5 L113,196.5 Z" fill="#f0f0f0"/><path d="M168,177 L184.6,183 L177,187.5 L163,180.5 Z" fill="#eeeeee"/><ellipse cx="145.6" cy="187" rx="25.5" ry="11" fill="#d9d9d9" stroke="#b8b8b8" stroke-width="0.6"/><ellipse cx="145.6" cy="186.5" rx="21.5" ry="8.8" fill="#f2f2f2"/><path d="M125,186 C126,181 131,179 137,178 L139,183 C133,184 130,186 130,189 Z" fill="#6a6a6a"/><path d="M166,186 C165,181 160,179 154,178 L152,183 C158,184 161,186 161,189 Z" fill="#5a5a5a"/><path d="M128,190 C133,194 140,195 146,195 C152,195 159,194 163,190 L160,189 C155,192 150,192.5 146,192.5 C141,192.5 135,192 131,189 Z" fill="#9a9a9a"/><ellipse cx="145.6" cy="186.8" rx="9.5" ry="4.2" fill="#e4e4e4" stroke="#a8a8a8" stroke-width="0.6"/><ellipse cx="145.6" cy="186.5" rx="7.8" ry="3" fill="#d88a00"/><path d="M139.6,168 C139.6,165.5 142,164.8 145.6,164.8 C149,164.8 151.6,165.5 151.6,168 L151.6,186 C151.6,187.6 149,188.4 145.6,188.4 C142,188.4 139.6,187.6 139.6,186 Z" fill="url(#gShaft)"/><ellipse cx="143" cy="204" rx="1.6" ry="0.9" fill="#777"/><ellipse cx="177" cy="190" rx="1.4" ry="0.8" fill="#777"/><line x1="272.30" y1="197.00" x2="272.30" y2="219.00" stroke="#111" stroke-width="1.3" /><line x1="272.30" y1="257.00" x2="272.30" y2="277.50" stroke="#111" stroke-width="1.3" /><circle cx="272.30" cy="238.00" r="19.20" stroke="#111" stroke-width="1.3" fill="none"/><path d="M272.3,219.5 L265.8,229.2 L278.8,229.2 Z" fill="#111"/><line x1="291.50" y1="235.60" x2="311.50" y2="235.60" stroke="#111" stroke-width="1.3" /><line x1="291.50" y1="240.90" x2="311.50" y2="240.90" stroke="#111" stroke-width="1.3" /><line x1="172.20" y1="433.00" x2="172.20" y2="490.00" stroke="#2e2e2e" stroke-width="0.5" /><line x1="269.80" y1="433.00" x2="269.80" y2="490.00" stroke="#2e2e2e" stroke-width="0.5" /><line x1="172.20" y1="437.70" x2="269.80" y2="437.70" stroke="#2e2e2e" stroke-width="0.6" /><path d="M172.20,437.70 L174.40,436.93 L174.40,438.47 Z" fill="#2e2e2e"/><path d="M269.80,437.70 L267.60,438.47 L267.60,436.93 Z" fill="#2e2e2e"/><text x="221.0" y="437.0" font-size="6.2" text-anchor="middle" fill="#222" font-family="Liberation Sans, sans-serif" >130</text><line x1="187.00" y1="445.00" x2="187.00" y2="486.00" stroke="#2e2e2e" stroke-width="0.5" /><line x1="255.60" y1="445.00" x2="255.60" y2="486.00" stroke="#2e2e2e" stroke-width="0.5" /><line x1="187.00" y1="448.90" x2="255.60" y2="448.90" stroke="#2e2e2e" stroke-width="0.6" /><path d="M187.00,448.90 L189.20,448.13 L189.20,449.67 Z" fill="#2e2e2e"/><path d="M255.60,448.90 L253.40,449.67 L253.40,448.13 Z" fill="#2e2e2e"/><text x="221.3" y="448.2" font-size="6.2" text-anchor="middle" fill="#222" font-family="Liberation Sans, sans-serif" >91</text><path d="M172.2,492.6 L172.2,489 C172.2,485 174,483 178,480 L207,463.8 C211,461.4 216,460.6 221,460.6 C226,460.6 231,461.4 235,463.8 L264,480 C268,483 270,485 270,489 L270,492.6 L262.6,492.6 A5.2,5.2 0 0 0 262.6,503 L270,503 L270,507 C270,510 268,512 265,514 L255.5,521" stroke="#2e2e2e" stroke-width="0.8" fill="none" /><path d="M172.2,492.6 L179.6,492.6 A5.2,5.2 0 0 1 179.6,503 L172.2,503 L172.2,507 C172.2,510 174,512 177,514 L186.6,521" stroke="#2e2e2e" stroke-width="0.8" fill="none" /><line x1="165.00" y1="497.80" x2="181.00" y2="497.80" stroke="#2e2e2e" stroke-width="0.55" /><path d="M183.60,497.80 L181.40,498.57 L181.40,497.03 Z" fill="#2e2e2e"/><line x1="277.00" y1="497.80" x2="261.00" y2="497.80" stroke="#2e2e2e" stroke-width="0.55" /><path d="M258.40,497.80 L260.60,497.03 L260.60,498.57 Z" fill="#2e2e2e"/><path d="M190.7,483.5 A45.1,45.1 0 0 1 251.5,483.5" stroke="#2e2e2e" stroke-width="0.8" fill="none" /><path d="M190.7,536.5 A45.1,45.1 0 0 0 251.5,536.5" stroke="#2e2e2e" stroke-width="0.8" fill="none" /><rect x="186.3" y="483.3" width="4.4" height="55" fill="#e2e2e2" stroke="#666" stroke-width="0.55"/><rect x="251.6" y="483.3" width="4.4" height="55" fill="#e2e2e2" stroke="#666" stroke-width="0.55"/><polygon points="198.40,494.75 191.69,490.88 191.69,483.12 198.40,479.25 205.11,483.12 205.11,490.88" stroke="#2e2e2e" stroke-width="0.75" fill="none"/><line x1="196.00" y1="487.00" x2="200.80" y2="487.00" stroke="#2e2e2e" stroke-width="0.5" /><line x1="198.40" y1="484.60" x2="198.40" y2="489.40" stroke="#2e2e2e" stroke-width="0.5" /><polygon points="243.40,494.75 236.69,490.88 236.69,483.12 243.40,479.25 250.11,483.12 250.11,490.88" stroke="#2e2e2e" stroke-width="0.75" fill="none"/><line x1="241.00" y1="487.00" x2="245.80" y2="487.00" stroke="#2e2e2e" stroke-width="0.5" /><line x1="243.40" y1="484.60" x2="243.40" y2="489.40" stroke="#2e2e2e" stroke-width="0.5" /><polygon points="198.40,540.75 191.69,536.88 191.69,529.12 198.40,525.25 205.11,529.12 205.11,536.88" stroke="#2e2e2e" stroke-width="0.75" fill="none"/><line x1="196.00" y1="533.00" x2="200.80" y2="533.00" stroke="#2e2e2e" stroke-width="0.5" /><line x1="198.40" y1="530.60" x2="198.40" y2="535.40" stroke="#2e2e2e" stroke-width="0.5" /><polygon points="243.40,540.75 236.69,536.88 236.69,529.12 243.40,525.25 250.11,529.12 250.11,536.88" stroke="#2e2e2e" stroke-width="0.75" fill="none"/><line x1="241.00" y1="533.00" x2="245.80" y2="533.00" stroke="#2e2e2e" stroke-width="0.5" /><line x1="243.40" y1="530.60" x2="243.40" y2="535.40" stroke="#2e2e2e" stroke-width="0.5" /><path d="M208.5,473.2 L208.5,489 C208.5,493.5 205,496.7 200,496.7 L190.7,496.7" stroke="#2e2e2e" stroke-width="0.8" fill="none" /><path d="M233.9,473.2 L233.9,489 C233.9,493.5 237.4,496.7 242.4,496.7 L251.6,496.7" stroke="#2e2e2e" stroke-width="0.8" fill="none" /><path d="M208.5,546.8 L208.5,531 C208.5,526.5 205,523.3 200,523.3 L190.7,523.3" stroke="#2e2e2e" stroke-width="0.8" fill="none" /><path d="M233.9,546.8 L233.9,531 C233.9,526.5 237.4,523.3 242.4,523.3 L251.6,523.3" stroke="#2e2e2e" stroke-width="0.8" fill="none" /><line x1="184.00" y1="510.00" x2="197.00" y2="510.00" stroke="#2e2e2e" stroke-width="0.6" stroke-dasharray="3,1.2"/><line x1="245.00" y1="510.00" x2="258.00" y2="510.00" stroke="#2e2e2e" stroke-width="0.6" stroke-dasharray="3,1.2"/><text x="202.5" y="510" font-size="4.2" text-anchor="middle" fill="#222" font-family="Liberation Sans, sans-serif" transform="rotate(90 202.5 510)" >2</text><text x="238.5" y="510" font-size="4.2" text-anchor="middle" fill="#222" font-family="Liberation Sans, sans-serif" transform="rotate(90 238.5 510)" >ε</text><line x1="225.00" y1="471.80" x2="285.00" y2="471.80" stroke="#2e2e2e" stroke-width="0.5" /><line x1="225.00" y1="547.80" x2="285.00" y2="547.80" stroke="#2e2e2e" stroke-width="0.5" /><line x1="282.60" y1="471.80" x2="282.60" y2="547.80" stroke="#2e2e2e" stroke-width="0.6" /><path d="M282.60,471.80 L283.37,474.00 L281.83,474.00 Z" fill="#2e2e2e"/><path d="M282.60,547.80 L281.83,545.60 L283.37,545.60 Z" fill="#2e2e2e"/><text x="281.8" y="510" font-size="6.6" text-anchor="middle" fill="#111" font-family="Liberation Sans, sans-serif" transform="rotate(-90 281.8 510)" >98.6</text><line x1="299.00" y1="434.00" x2="299.00" y2="472.00" stroke="#2e2e2e" stroke-width="0.5" /><line x1="392.40" y1="434.00" x2="392.40" y2="462.00" stroke="#2e2e2e" stroke-width="0.5" /><line x1="418.00" y1="434.00" x2="418.00" y2="491.00" stroke="#2e2e2e" stroke-width="0.5" /><line x1="318.00" y1="446.00" x2="318.00" y2="551.00" stroke="#2e2e2e" stroke-width="0.5" /><line x1="374.50" y1="446.00" x2="374.50" y2="551.00" stroke="#2e2e2e" stroke-width="0.5" /><line x1="299.00" y1="438.60" x2="392.40" y2="438.60" stroke="#2e2e2e" stroke-width="0.6" /><path d="M299.00,438.60 L301.20,437.83 L301.20,439.37 Z" fill="#2e2e2e"/><path d="M392.40,438.60 L390.20,439.37 L390.20,437.83 Z" fill="#2e2e2e"/><text x="345.7" y="437.6" font-size="6.2" text-anchor="middle" fill="#222" font-family="Liberation Sans, sans-serif" >L</text><line x1="392.40" y1="438.60" x2="418.00" y2="438.60" stroke="#2e2e2e" stroke-width="0.6" /><path d="M392.40,438.60 L394.60,437.83 L394.60,439.37 Z" fill="#2e2e2e"/><path d="M418.00,438.60 L415.80,439.37 L415.80,437.83 Z" fill="#2e2e2e"/><text x="405.2" y="437.6" font-size="6.2" text-anchor="middle" fill="#222" font-family="Liberation Sans, sans-serif" >31.8</text><line x1="299.00" y1="450.00" x2="318.00" y2="450.00" stroke="#2e2e2e" stroke-width="0.6" /><path d="M299.00,450.00 L301.20,449.23 L301.20,450.77 Z" fill="#2e2e2e"/><path d="M318.00,450.00 L315.80,450.77 L315.80,449.23 Z" fill="#2e2e2e"/><text x="308.5" y="449.0" font-size="6.2" text-anchor="middle" fill="#222" font-family="Liberation Sans, sans-serif" >24.8</text><line x1="318.50" y1="450.00" x2="374.00" y2="450.00" stroke="#2e2e2e" stroke-width="0.6" /><path d="M318.50,450.00 L320.70,449.23 L320.70,450.77 Z" fill="#2e2e2e"/><path d="M374.00,450.00 L371.80,450.77 L371.80,449.23 Z" fill="#2e2e2e"/><text x="346.25" y="449.0" font-size="6.2" text-anchor="middle" fill="#222" font-family="Liberation Sans, sans-serif" >A</text><line x1="375.00" y1="450.00" x2="392.00" y2="450.00" stroke="#2e2e2e" stroke-width="0.6" /><path d="M375.00,450.00 L377.20,449.23 L377.20,450.77 Z" fill="#2e2e2e"/><path d="M392.00,450.00 L389.80,450.77 L389.80,449.23 Z" fill="#2e2e2e"/><text x="383.5" y="449.0" font-size="6.2" text-anchor="middle" fill="#222" font-family="Liberation Sans, sans-serif" >25</text><path d="M308,472.5 L384.5,472.5 L384.5,550 L308,550 C303,550 299.5,546 299.5,541 L299.5,481 C299.5,476 303,472.5 308,472.5 Z" stroke="#2e2e2e" stroke-width="0.8" fill="none" /><line x1="308.00" y1="472.50" x2="308.00" y2="550.00" stroke="#2e2e2e" stroke-width="0.6" /><path d="M299.5,479.6 L306,479.6 L306,498.2 L299.5,498.2" stroke="#2e2e2e" stroke-width="0.65" fill="none" /><path d="M299.5,523.8 L306,523.8 L306,542.9 L299.5,542.9" stroke="#2e2e2e" stroke-width="0.65" fill="none" /><line x1="303.00" y1="482.00" x2="303.00" y2="496.00" stroke="#2e2e2e" stroke-width="0.5" /><line x1="303.00" y1="526.00" x2="303.00" y2="541.00" stroke="#2e2e2e" stroke-width="0.5" /><rect x="314.6" y="499" width="3.4" height="7.6" stroke="#2e2e2e" stroke-width="0.6" fill="#bbb"/><rect x="314.6" y="515" width="3.4" height="8" stroke="#2e2e2e" stroke-width="0.6" fill="none"/><path d="M384.5,461 L393.4,461 L393.4,534.6 L388,534.6 L388,546 L384.5,546 L384.5,550" stroke="#2e2e2e" stroke-width="0.8" fill="none" /><path d="M393.4,465.6 L397.9,465.6 L397.9,531.4 L393.4,531.4" stroke="#2e2e2e" stroke-width="0.75" fill="none" /><line x1="389.00" y1="471.00" x2="389.00" y2="530.00" stroke="#2e2e2e" stroke-width="0.45" /><rect x="390.5" y="476" width="2.9" height="8" stroke="#2e2e2e" stroke-width="0.6" fill="none"/><path d="M330,485.6 L363,485.6 L368.4,491 L368.4,530.5 L363,536 L330,536 L324.4,530.5 L324.4,491 Z" stroke="#2e2e2e" stroke-width="0.8" fill="none" /><circle cx="346.50" cy="511.00" r="8.20" stroke="#2e2e2e" stroke-width="0.9" fill="none"/><circle cx="346.50" cy="511.00" r="5.20" stroke="#2e2e2e" stroke-width="0.7" fill="none"/><line x1="330.00" y1="511.00" x2="368.00" y2="511.00" stroke="#2e2e2e" stroke-width="0.55" /><line x1="346.50" y1="494.00" x2="346.50" y2="555.00" stroke="#2e2e2e" stroke-width="0.55" /><line x1="376.00" y1="498.50" x2="421.00" y2="498.50" stroke="#2e2e2e" stroke-width="0.5" stroke-dasharray="4,1.5"/><line x1="378.00" y1="511.00" x2="416.00" y2="511.00" stroke="#2e2e2e" stroke-width="0.5" /><line x1="384.50" y1="479.00" x2="397.90" y2="479.00" stroke="#2e2e2e" stroke-width="0.45" /><line x1="384.50" y1="517.00" x2="397.90" y2="517.00" stroke="#2e2e2e" stroke-width="0.45" /><path d="M397.9,491.8 L417,491.8 L417,505.2 L397.9,505.2" stroke="#2e2e2e" stroke-width="0.75" fill="none" /><rect x="401.7" y="491" width="14.1" height="2.7" stroke="#222" stroke-width="0.8" fill="#999"/><line x1="401.70" y1="484.70" x2="415.80" y2="484.70" stroke="#2e2e2e" stroke-width="0.6" /><path d="M401.70,484.70 L403.90,483.93 L403.90,485.47 Z" fill="#2e2e2e"/><path d="M415.80,484.70 L413.60,485.47 L413.60,483.93 Z" fill="#2e2e2e"/><text x="408.8" y="483.5" font-size="5.8" text-anchor="middle" fill="#222" font-family="Liberation Sans, sans-serif" >18.0</text><line x1="401.70" y1="478.00" x2="401.70" y2="491.00" stroke="#2e2e2e" stroke-width="0.5" /><line x1="415.80" y1="478.00" x2="415.80" y2="491.00" stroke="#2e2e2e" stroke-width="0.5" /><line x1="417.00" y1="491.80" x2="443.00" y2="491.80" stroke="#2e2e2e" stroke-width="0.55" /><line x1="417.00" y1="505.20" x2="443.00" y2="505.20" stroke="#2e2e2e" stroke-width="0.55" /><line x1="435.80" y1="456.60" x2="435.80" y2="505.20" stroke="#2e2e2e" stroke-width="0.55" /><path d="M435.80,491.80 L436.50,493.80 L435.10,493.80 Z" fill="#2e2e2e"/><path d="M435.80,505.20 L435.10,503.20 L436.50,503.20 Z" fill="#2e2e2e"/><text x="433.6" y="476" font-size="7.2" text-anchor="middle" fill="#222" font-family="Liberation Sans, sans-serif" transform="rotate(-90 433.6 476)" >Ø15.875</text><text x="430.6" y="458.5" font-size="3.2" text-anchor="middle" fill="#333" font-family="Liberation Sans, sans-serif" transform="rotate(-90 430.6 458.5)" >-0.03</text><text x="433.8" y="458.5" font-size="3.2" text-anchor="middle" fill="#333" font-family="Liberation Sans, sans-serif" transform="rotate(-90 433.8 458.5)" >-0.05</text><line x1="409.40" y1="498.50" x2="409.40" y2="511.00" stroke="#2e2e2e" stroke-width="0.55" /><path d="M409.40,498.50 L410.10,500.50 L408.70,500.50 Z" fill="#2e2e2e"/><path d="M409.40,511.00 L408.70,509.00 L410.10,509.00 Z" fill="#2e2e2e"/><text x="410.7" y="522.5" font-size="5.2" text-anchor="middle" fill="#444" font-family="Liberation Sans, sans-serif" transform="rotate(-90 410.7 522.5)" >15.725</text><text x="421.2" y="516.7" font-size="6.4" text-anchor="middle" fill="#222" font-family="Liberation Sans, sans-serif" >4.00</text><text x="434" y="513.8" font-size="3.0" text-anchor="middle" fill="#333" font-family="Liberation Sans, sans-serif" >-0.00</text><text x="434" y="517" font-size="3.0" text-anchor="middle" fill="#333" font-family="Liberation Sans, sans-serif" >-0.03</text><line x1="412.60" y1="519.20" x2="442.60" y2="519.20" stroke="#2e2e2e" stroke-width="0.55" /><path d="M443.00,519.20 L441.00,519.90 L441.00,518.50 Z" fill="#2e2e2e"/><line x1="444.50" y1="517.30" x2="444.50" y2="521.80" stroke="#2e2e2e" stroke-width="0.5" /><line x1="447.00" y1="517.30" x2="447.00" y2="521.80" stroke="#2e2e2e" stroke-width="0.5" /><line x1="455.40" y1="519.20" x2="449.00" y2="519.20" stroke="#2e2e2e" stroke-width="0.55" /><path d="M448.60,519.20 L450.60,518.50 L450.60,519.90 Z" fill="#2e2e2e"/><circle cx="445.80" cy="532.00" r="6.40" stroke="#2e2e2e" stroke-width="0.75" fill="none"/><circle cx="445.80" cy="526.90" r="1.90" stroke="#2e2e2e" stroke-width="0.6" fill="none"/><line x1="442.80" y1="533.00" x2="448.80" y2="533.00" stroke="#2e2e2e" stroke-width="0.5" /><line x1="445.80" y1="530.00" x2="445.80" y2="536.00" stroke="#2e2e2e" stroke-width="0.5" /><line x1="431.00" y1="525.00" x2="445.00" y2="525.00" stroke="#2e2e2e" stroke-width="0.55" /><line x1="431.00" y1="538.40" x2="445.00" y2="538.40" stroke="#2e2e2e" stroke-width="0.55" /><line x1="431.80" y1="525.00" x2="431.80" y2="565.00" stroke="#2e2e2e" stroke-width="0.55" /><path d="M431.80,525.00 L432.50,527.00 L431.10,527.00 Z" fill="#2e2e2e"/><path d="M431.80,538.40 L431.10,536.40 L432.50,536.40 Z" fill="#2e2e2e"/><text x="429.8" y="556" font-size="6.4" text-anchor="middle" fill="#222" font-family="Liberation Sans, sans-serif" transform="rotate(-90 429.8 556)" >7.60</text><text x="425.5" y="545" font-size="3.0" text-anchor="middle" fill="#333" font-family="Liberation Sans, sans-serif" transform="rotate(-90 425.5 545)" >-0.05</text><text x="428.3" y="545" font-size="3.0" text-anchor="middle" fill="#333" font-family="Liberation Sans, sans-serif" transform="rotate(-90 428.3 545)" >-0.30</text><line x1="346.50" y1="551.00" x2="346.50" y2="560.00" stroke="#2e2e2e" stroke-width="0.45" /><line x1="349.00" y1="559.40" x2="392.00" y2="559.40" stroke="#2e2e2e" stroke-width="0.6" /><path d="M349.00,559.40 L351.20,558.63 L351.20,560.17 Z" fill="#2e2e2e"/><path d="M392.00,559.40 L389.80,560.17 L389.80,558.63 Z" fill="#2e2e2e"/><text x="370.5" y="558.3" font-size="5.6" text-anchor="middle" fill="#222" font-family="Liberation Sans, sans-serif" >B</text><line x1="392.80" y1="540.00" x2="392.80" y2="565.00" stroke="#2e2e2e" stroke-width="0.5" /><line x1="397.30" y1="535.00" x2="397.30" y2="565.00" stroke="#2e2e2e" stroke-width="0.5" /><text x="396.3" y="560" font-size="4" text-anchor="middle" fill="#222" font-family="Liberation Sans, sans-serif" transform="rotate(-90 396.3 560)" >6</text><line x1="386.00" y1="560.00" x2="392.80" y2="560.00" stroke="#2e2e2e" stroke-width="0.5" /><path d="M392.80,560.00 L390.80,560.70 L390.80,559.30 Z" fill="#2e2e2e"/><line x1="397.30" y1="560.00" x2="404.00" y2="560.00" stroke="#2e2e2e" stroke-width="0.5" /><path d="M397.30,560.00 L399.30,559.30 L399.30,560.70 Z" fill="#2e2e2e"/><line x1="459.00" y1="434.00" x2="459.00" y2="495.00" stroke="#2e2e2e" stroke-width="0.55" /><line x1="538.50" y1="434.00" x2="538.50" y2="495.00" stroke="#2e2e2e" stroke-width="0.55" /><line x1="459.00" y1="438.00" x2="539.00" y2="438.00" stroke="#2e2e2e" stroke-width="0.6" /><path d="M459.00,438.00 L461.20,437.23 L461.20,438.77 Z" fill="#2e2e2e"/><path d="M539.00,438.00 L536.80,438.77 L536.80,437.23 Z" fill="#2e2e2e"/><text x="499.0" y="437.0" font-size="6.2" text-anchor="middle" fill="#222" font-family="Liberation Sans, sans-serif" >106.4</text><line x1="467.30" y1="446.00" x2="467.30" y2="495.00" stroke="#2e2e2e" stroke-width="0.55" /><line x1="529.60" y1="446.00" x2="529.60" y2="495.00" stroke="#2e2e2e" stroke-width="0.55" /><line x1="467.60" y1="449.60" x2="530.00" y2="449.60" stroke="#2e2e2e" stroke-width="0.6" /><path d="M467.60,449.60 L469.80,448.83 L469.80,450.37 Z" fill="#2e2e2e"/><path d="M530.00,449.60 L527.80,450.37 L527.80,448.83 Z" fill="#2e2e2e"/><text x="498.8" y="448.6" font-size="6.2" text-anchor="middle" fill="#222" font-family="Liberation Sans, sans-serif" >Ø82.55</text><text x="514" y="446" font-size="2.4" text-anchor="middle" fill="#222" font-family="Liberation Sans, sans-serif" >0.00</text><text x="514" y="449" font-size="2.4" text-anchor="middle" fill="#222" font-family="Liberation Sans, sans-serif" >0.05</text><path d="M467,479 A37,37 0 0 1 530,479 L544,486 C547,487 548,489 548,492 L548,493.9 L536,493.9 A4.4,4.4 0 0 0 536,502.7 L548,502.7 L548,507 C548,510 546,512 543,514 L530,520.5" stroke="#2e2e2e" stroke-width="0.8" fill="none" /><path d="M467,479 L453,486 C450,487 449,489 449,492 L449,493.9 L461,493.9 A4.4,4.4 0 0 1 461,502.7 L449,502.7 L449,507 C449,510 451,512 454,514 L467,520.5" stroke="#2e2e2e" stroke-width="0.8" fill="none" /><path d="M467,517.7 A37,37 0 0 0 530,517.7" stroke="#2e2e2e" stroke-width="0.8" fill="none" /><path d="M464,521 L464,540 C472,546 485,549.5 498.5,549.5 C512,549.5 525,546 533.7,540 L533.7,521" stroke="#2e2e2e" stroke-width="0.75" fill="none" /><line x1="465.50" y1="522.00" x2="465.50" y2="541.00" stroke="#666" stroke-width="0.45" /><line x1="467.00" y1="522.00" x2="467.00" y2="541.00" stroke="#666" stroke-width="0.45" /><line x1="528.50" y1="522.00" x2="528.50" y2="541.00" stroke="#666" stroke-width="0.45" /><line x1="530.00" y1="522.00" x2="530.00" y2="541.00" stroke="#666" stroke-width="0.45" /><line x1="531.80" y1="522.00" x2="531.80" y2="541.00" stroke="#666" stroke-width="0.45" /><circle cx="498.60" cy="498.60" r="30.80" stroke="#2e2e2e" stroke-width="0.75" fill="none"/><circle cx="498.60" cy="498.60" r="25.70" stroke="#2e2e2e" stroke-width="0.7" fill="none"/><circle cx="498.60" cy="498.60" r="11.70" stroke="#2e2e2e" stroke-width="0.75" fill="none"/><circle cx="498.60" cy="498.60" r="6.70" stroke="#2e2e2e" stroke-width="0.7" fill="none"/><path d="M482.8,477 L489,485.5 A16.5,16.5 0 0 1 508.2,485.5 L514.2,477" stroke="#2e2e2e" stroke-width="0.75" fill="none" /><path d="M490.5,482.5 A14.5,14.5 0 0 1 506.5,482.5" stroke="#555" stroke-width="1.3" fill="none" /><path d="M481.3,499.5 A17.2,17.2 0 0 0 489.5,513 L485,521" stroke="#2e2e2e" stroke-width="0.75" fill="none" /><path d="M515.7,499.5 A17.2,17.2 0 0 1 507.5,513 L512,521" stroke="#2e2e2e" stroke-width="0.75" fill="none" /><path d="M483.5,500 A15,15 0 0 0 490,511" stroke="#555" stroke-width="1.2" fill="none" /><path d="M513.5,500 A15,15 0 0 1 507,511" stroke="#555" stroke-width="1.2" fill="none" /><path d="M489.5,513 A17.2,17.2 0 0 0 507.5,513" stroke="#2e2e2e" stroke-width="0.0" fill="none" /><line x1="443.00" y1="498.30" x2="556.00" y2="498.30" stroke="#2e2e2e" stroke-width="0.45" stroke-dasharray="6,1.5,1.5,1.5"/><line x1="498.50" y1="458.00" x2="498.50" y2="554.00" stroke="#2e2e2e" stroke-width="0.45" stroke-dasharray="6,1.5,1.5,1.5"/><circle cx="475.80" cy="534.20" r="4.00" stroke="#2e2e2e" stroke-width="0.7" fill="none"/><circle cx="475.80" cy="534.20" r="2.40" stroke="#2e2e2e" stroke-width="0.55" fill="none"/><circle cx="521.30" cy="534.20" r="4.00" stroke="#2e2e2e" stroke-width="0.7" fill="none"/><circle cx="521.30" cy="534.20" r="2.40" stroke="#2e2e2e" stroke-width="0.55" fill="none"/><path d="M485.3,549 L485.3,540 C486,537 490,535.4 498.5,535.4 C507,535.4 511,537 511.7,540 L511.7,549" stroke="#2e2e2e" stroke-width="0.75" fill="none" /><line x1="549.00" y1="492.00" x2="560.00" y2="492.00" stroke="#2e2e2e" stroke-width="0.4" /><line x1="549.00" y1="505.00" x2="560.00" y2="505.00" stroke="#2e2e2e" stroke-width="0.4" /><line x1="558.00" y1="492.00" x2="558.00" y2="505.00" stroke="#2e2e2e" stroke-width="0.6" /><path d="M558.00,492.00 L558.77,494.20 L557.23,494.20 Z" fill="#2e2e2e"/><path d="M558.00,505.00 L557.23,502.80 L558.77,502.80 Z" fill="#2e2e2e"/><line x1="552.00" y1="498.60" x2="560.00" y2="498.60" stroke="#2e2e2e" stroke-width="0.4" /><circle cx="446.00" cy="532.00" r="6.50" stroke="#2e2e2e" stroke-width="0.7" fill="none"/><rect x="443.5" y="524.5" width="5" height="3" stroke="#3a3a3a" stroke-width="0.5" fill="#fff"/><line x1="443.00" y1="532.00" x2="449.00" y2="532.00" stroke="#2e2e2e" stroke-width="0.4" /><line x1="446.00" y1="529.00" x2="446.00" y2="535.00" stroke="#2e2e2e" stroke-width="0.4" /><line x1="441.00" y1="517.00" x2="452.00" y2="517.00" stroke="#2e2e2e" stroke-width="0.4" /><line x1="444.00" y1="514.00" x2="444.00" y2="520.00" stroke="#2e2e2e" stroke-width="0.4" /><line x1="447.00" y1="514.00" x2="447.00" y2="520.00" stroke="#2e2e2e" stroke-width="0.4" /><line x1="430.00" y1="527.00" x2="442.00" y2="527.00" stroke="#2e2e2e" stroke-width="0.4" /><line x1="430.00" y1="538.00" x2="452.00" y2="538.00" stroke="#2e2e2e" stroke-width="0.4" /><text x="250.9" y="576.3" font-size="9.4" text-anchor="middle" fill="#222" font-family="Liberation Sans, sans-serif" >4.00 × 18.00</text><line x1="222.00" y1="577.80" x2="275.60" y2="577.80" stroke="#2e2e2e" stroke-width="0.7" /><line x1="275.60" y1="577.80" x2="290.50" y2="594.60" stroke="#2e2e2e" stroke-width="0.7" /><path d="M291.00,595.00 L288.23,593.44 L289.81,592.06 Z" fill="#2e2e2e"/><rect x="275.6" y="595" width="19.6" height="3" stroke="#333" stroke-width="0.6" fill="none"/><path d="M302.7,597.6 L271,597.6 C269,597.6 267.6,599 267.6,601 L267.6,619 C267.6,621 269,622.2 271,622.2 L302.7,622.2" stroke="#2e2e2e" stroke-width="0.8" fill="none" /><line x1="269.50" y1="598.50" x2="269.50" y2="621.50" stroke="#777" stroke-width="1.4" /><line x1="303.70" y1="580.00" x2="303.70" y2="639.00" stroke="#111" stroke-width="1.7" /><path d="M303.7,580 L310.4,580 M303.7,639 L310.4,639" stroke="#2e2e2e" stroke-width="0.7" fill="none" /><path d="M316.1,572 L310.4,572 L310.4,647 L316.1,647" stroke="#2e2e2e" stroke-width="0.75" fill="none" /><line x1="259.70" y1="609.50" x2="326.00" y2="609.50" stroke="#2e2e2e" stroke-width="0.7" /><line x1="227.00" y1="595.10" x2="271.00" y2="595.10" stroke="#2e2e2e" stroke-width="0.6" /><line x1="247.60" y1="598.30" x2="267.20" y2="598.30" stroke="#2e2e2e" stroke-width="0.6" /><line x1="227.00" y1="622.20" x2="267.00" y2="622.20" stroke="#2e2e2e" stroke-width="0.6" /><line x1="229.00" y1="596.00" x2="229.00" y2="621.50" stroke="#2e2e2e" stroke-width="0.7" /><path d="M229.00,596.00 L229.77,598.20 L228.23,598.20 Z" fill="#2e2e2e"/><path d="M229.00,621.50 L228.23,619.30 L229.77,619.30 Z" fill="#2e2e2e"/><line x1="250.40" y1="599.00" x2="250.40" y2="621.50" stroke="#2e2e2e" stroke-width="0.7" /><path d="M250.40,599.00 L251.17,601.20 L249.63,601.20 Z" fill="#2e2e2e"/><path d="M250.40,621.50 L249.63,619.30 L251.17,619.30 Z" fill="#2e2e2e"/><line x1="229.00" y1="622.00" x2="229.00" y2="673.00" stroke="#2e2e2e" stroke-width="0.6" /><line x1="250.40" y1="622.00" x2="250.40" y2="673.00" stroke="#2e2e2e" stroke-width="0.6" /><text x="228.3" y="657.5" font-size="9.5" text-anchor="middle" fill="#222" font-family="Liberation Sans, sans-serif" transform="rotate(-90 228.3 657.5)" >17.60</text><text x="221.8" y="636" font-size="6.2" text-anchor="middle" fill="#333" font-family="Liberation Sans, sans-serif" transform="rotate(-90 221.8 636)" >-0.05</text><text x="228" y="636" font-size="6.2" text-anchor="middle" fill="#333" font-family="Liberation Sans, sans-serif" transform="rotate(-90 228 636)" >-0.25</text><text x="246.5" y="649" font-size="9.5" text-anchor="middle" fill="#222" font-family="Liberation Sans, sans-serif" transform="rotate(-90 246.5 649)" >Ø15.875</text><line x1="268.70" y1="622.00" x2="268.70" y2="676.00" stroke="#2e2e2e" stroke-width="0.6" /><line x1="310.40" y1="650.00" x2="310.40" y2="676.00" stroke="#2e2e2e" stroke-width="0.6" /><line x1="268.70" y1="672.60" x2="310.40" y2="672.60" stroke="#2e2e2e" stroke-width="0.6" /><path d="M268.70,672.60 L270.90,671.83 L270.90,673.37 Z" fill="#2e2e2e"/><path d="M310.40,672.60 L308.20,673.37 L308.20,671.83 Z" fill="#2e2e2e"/><text x="288.7" y="670.6" font-size="9.5" text-anchor="middle" fill="#222" font-family="Liberation Sans, sans-serif" >31.80</text><text x="458" y="575.3" font-size="9.4" text-anchor="middle" fill="#222" font-family="Liberation Sans, sans-serif" >4.76x28.58</text><line x1="430.50" y1="578.90" x2="485.60" y2="578.90" stroke="#2e2e2e" stroke-width="0.7" /><line x1="485.60" y1="578.90" x2="493.60" y2="594.20" stroke="#2e2e2e" stroke-width="0.7" /><path d="M494.00,595.00 L491.70,592.84 L493.54,591.88 Z" fill="#2e2e2e"/><rect x="474.4" y="597" width="25.2" height="2.4" stroke="#333" stroke-width="0.6" fill="none"/><path d="M516.4,599.4 L470,599.4 C468,599.4 467,600.5 467,602.5 L467,620.5 C467,622.5 468,623.7 470,623.7 L516.4,623.7" stroke="#2e2e2e" stroke-width="0.8" fill="none" /><line x1="469.50" y1="600.00" x2="469.50" y2="623.00" stroke="#888" stroke-width="1.2" /><line x1="517.30" y1="581.00" x2="517.30" y2="640.20" stroke="#111" stroke-width="1.7" /><path d="M517.3,581 L522.6,581 M517.3,640.2 L522.6,640.2" stroke="#2e2e2e" stroke-width="0.7" fill="none" /><path d="M528.3,575.2 L522.6,575.2 L522.6,646 L528.3,646" stroke="#2e2e2e" stroke-width="0.75" fill="none" /><text x="520.5" y="590" font-size="3.2" text-anchor="middle" fill="#444" font-family="Liberation Sans, sans-serif" transform="rotate(70 520.5 590)" >1/8</text><line x1="461.30" y1="610.60" x2="537.90" y2="610.60" stroke="#2e2e2e" stroke-width="0.7" /><line x1="428.70" y1="597.60" x2="471.60" y2="597.60" stroke="#2e2e2e" stroke-width="0.6" /><line x1="453.30" y1="599.80" x2="467.00" y2="599.80" stroke="#2e2e2e" stroke-width="0.6" /><line x1="428.70" y1="623.70" x2="467.00" y2="623.70" stroke="#2e2e2e" stroke-width="0.6" /><line x1="431.50" y1="598.00" x2="431.50" y2="623.00" stroke="#2e2e2e" stroke-width="0.7" /><path d="M431.50,598.00 L432.27,600.20 L430.73,600.20 Z" fill="#2e2e2e"/><path d="M431.50,623.00 L430.73,620.80 L432.27,620.80 Z" fill="#2e2e2e"/><line x1="454.80" y1="600.50" x2="454.80" y2="623.00" stroke="#2e2e2e" stroke-width="0.7" /><path d="M454.80,600.50 L455.57,602.70 L454.03,602.70 Z" fill="#2e2e2e"/><path d="M454.80,623.00 L454.03,620.80 L455.57,620.80 Z" fill="#2e2e2e"/><line x1="432.00" y1="623.00" x2="432.00" y2="672.00" stroke="#2e2e2e" stroke-width="0.6" /><line x1="456.00" y1="623.00" x2="456.00" y2="675.00" stroke="#2e2e2e" stroke-width="0.6" /><line x1="468.20" y1="623.00" x2="468.20" y2="676.00" stroke="#2e2e2e" stroke-width="0.6" /><line x1="522.80" y1="650.00" x2="522.80" y2="676.00" stroke="#2e2e2e" stroke-width="0.6" /><text x="428.5" y="655" font-size="9.5" text-anchor="middle" fill="#222" font-family="Liberation Sans, sans-serif" transform="rotate(-90 428.5 655)" >21.4</text><text x="424.4" y="635.5" font-size="6.2" text-anchor="middle" fill="#333" font-family="Liberation Sans, sans-serif" transform="rotate(-90 424.4 635.5)" >-0.05</text><text x="430.6" y="635.5" font-size="6.2" text-anchor="middle" fill="#333" font-family="Liberation Sans, sans-serif" transform="rotate(-90 430.6 635.5)" >-0.30</text><text x="452" y="662" font-size="10.3" text-anchor="middle" fill="#222" font-family="Liberation Sans, sans-serif" transform="rotate(-90 452 662)" >ø19.05</text><text x="446" y="637" font-size="6.2" text-anchor="middle" fill="#333" font-family="Liberation Sans, sans-serif" transform="rotate(-90 446 637)" >-0</text><text x="452.2" y="635.5" font-size="6.2" text-anchor="middle" fill="#333" font-family="Liberation Sans, sans-serif" transform="rotate(-90 452.2 635.5)" >-0.02</text><line x1="468.20" y1="673.50" x2="522.80" y2="673.50" stroke="#2e2e2e" stroke-width="0.6" /><path d="M468.20,673.50 L470.40,672.73 L470.40,674.27 Z" fill="#2e2e2e"/><path d="M522.80,673.50 L520.60,674.27 L520.60,672.73 Z" fill="#2e2e2e"/><text x="496" y="671.7" font-size="9.5" text-anchor="middle" fill="#222" font-family="Liberation Sans, sans-serif" >50.80</text></svg>
</body></html>
